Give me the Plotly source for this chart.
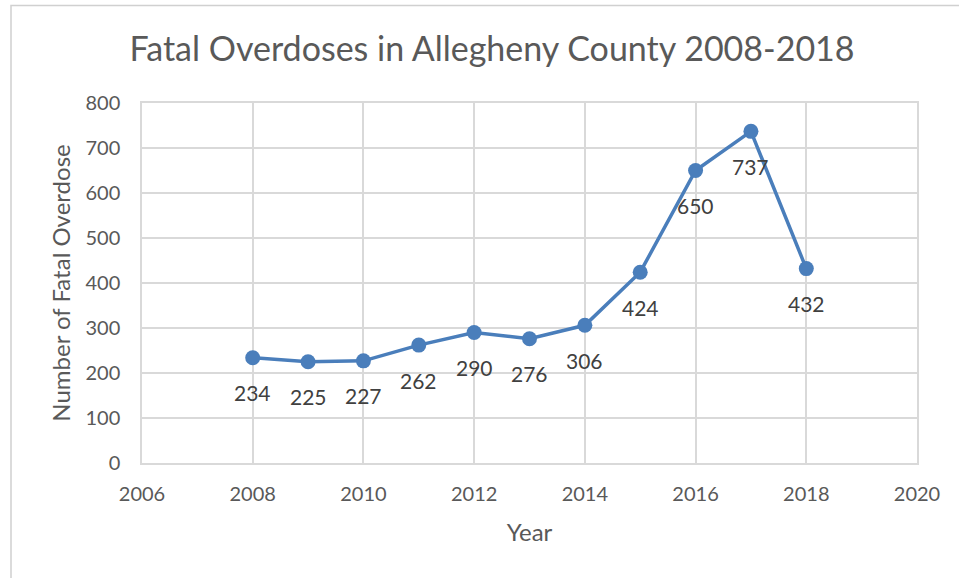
import plotly.graph_objects as go

years = [2008, 2009, 2010, 2011, 2012, 2013, 2014, 2015, 2016, 2017, 2018]
deaths = [234, 225, 227, 262, 290, 276, 306, 424, 650, 737, 432]

x_ticks = [2006, 2008, 2010, 2012, 2014, 2016, 2018, 2020]
y_ticks = [0, 100, 200, 300, 400, 500, 600, 700, 800]

FONT = "Lato, Carlito, Calibri, sans-serif"
LINE = "#4a7ebb"
GRID = "#d9d9d9"

fig = go.Figure()
fig.add_trace(go.Scatter(
    x=years, y=deaths, mode="lines+markers",
    line=dict(color=LINE, width=3.5),
    marker=dict(color=LINE, size=15),
    hoverinfo="x+y", showlegend=False,
))

for xv, yv in zip(years, deaths):
    fig.add_annotation(x=xv, y=yv, text=str(yv), showarrow=False,
                       yshift=-35, font=dict(family=FONT, size=21, color="#404040"))

L, R, T, B = 142, 42, 103, 115
W, H = 959, 578
pw, ph = W - L - R, H - T - B
bx = (11 - L) / pw
bx_end = (W - L) / pw
top_px = 5.5
fig.add_shape(type="path", xref="paper", yref="paper",
              path=(f"M {bx},{-(B + 10) / ph} L {bx},{1 + (T - top_px) / ph} "
                    f"L {bx_end},{1 + (T - top_px) / ph}"),
              line=dict(color="#d0d0d0", width=1.5), layer="below")

fig.update_layout(
    width=W, height=H,
    margin=dict(l=L, r=R, t=T, b=B),
    paper_bgcolor="white", plot_bgcolor="white",
    title=dict(text="Fatal Overdoses in Allegheny County 2008-2018",
               x=492 / W, xanchor="center",
               y=1 - 49 / H, yanchor="middle",
               font=dict(family=FONT, size=34, color="#595959")),
    font=dict(family=FONT, color="#595959"),
)
fig.update_xaxes(range=[2006, 2020], tickvals=x_ticks, ticktext=[str(v) for v in x_ticks],
                 showgrid=True, gridcolor=GRID, gridwidth=1.5,
                 showline=True, mirror=True, linecolor=GRID, linewidth=1.5,
                 zeroline=False, ticks="outside", ticklen=12, tickcolor="rgba(0,0,0,0)",
                 tickfont=dict(family=FONT, size=20, color="#595959"),
                 title=dict(text="Year", font=dict(family=FONT, size=24, color="#595959"), standoff=20))
fig.update_yaxes(range=[0, 800], tickvals=y_ticks,
                 showgrid=True, gridcolor=GRID, gridwidth=1.5,
                 showline=True, mirror=True, linecolor=GRID, linewidth=1.5,
                 zeroline=False, ticks="outside", ticklen=16, tickcolor="rgba(0,0,0,0)",
                 tickfont=dict(family=FONT, size=20, color="#595959"),
                 title=dict(text="Number of Fatal Overdose", font=dict(family=FONT, size=24, color="#595959"), standoff=8))

fig.write_html("out.html", config={"displayModeBar": False},
               post_script="document.body.style.margin='0px';")
